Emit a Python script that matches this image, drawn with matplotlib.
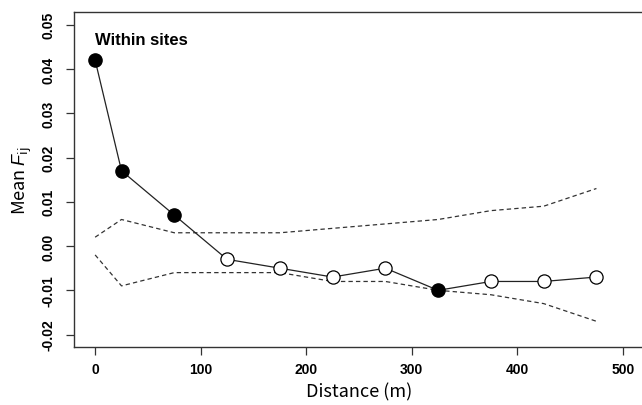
import numpy as np
import matplotlib
matplotlib.use("Agg")
import matplotlib.pyplot as plt

plt.rcParams['font.family'] = ['Liberation Sans', 'DejaVu Sans']
plt.rcParams['mathtext.fontset'] = 'custom'
plt.rcParams['mathtext.rm'] = 'Noto Sans CJK JP'
plt.rcParams['mathtext.it'] = 'Liberation Sans:italic'

# distance classes (m) and mean kinship
dist = [0, 25, 75, 125, 175, 225, 275, 325, 375, 425, 475]
fij = [0.042, 0.017, 0.007, -0.003, -0.005, -0.007, -0.005, -0.010, -0.008, -0.008, -0.007]
signif = [True, True, True, False, False, False, False, True, False, False, False]

# 95% envelope
upper = [0.002, 0.006, 0.003, 0.003, 0.003, 0.004, 0.005, 0.006, 0.008, 0.009, 0.013]
lower = [-0.002, -0.009, -0.006, -0.006, -0.006, -0.008, -0.008, -0.010, -0.011, -0.013, -0.017]

xticks = [0, 100, 200, 300, 400, 500]
yticks = [-0.02, -0.01, 0.00, 0.01, 0.02, 0.03, 0.04, 0.05]

fig = plt.figure(figsize=(6.42, 4.06), dpi=100)
ax = fig.add_axes([0.1153, 0.1429, 1.003 - 0.1153, 0.9672 - 0.1429])

ax.plot(dist, upper, color='#333333', lw=0.9, dashes=(3.5, 2.5))
ax.plot(dist, lower, color='#333333', lw=0.9, dashes=(3.5, 2.5))
ax.plot(dist, fij, color='#222222', lw=0.9, zorder=3)

x = np.array(dist)
y = np.array(fij)
s = np.array(signif)
ax.plot(x[s], y[s], 'o', ms=9.5, mfc='black', mec='black', zorder=4)
ax.plot(x[~s], y[~s], 'o', ms=9.5, mfc='white', mec='black', mew=0.9, zorder=4)

ax.set_xlim(-20, 520)
ax.set_ylim(-0.0228, 0.0528)
ax.set_xticks(xticks)
ax.set_xticklabels([str(t) for t in xticks], fontweight='bold', fontsize=10)
ax.set_yticks(yticks)
ax.set_yticklabels(['%.2f' % t for t in yticks], fontweight='bold', fontsize=10,
                   rotation=90, va='center')
ax.tick_params(direction='out', length=6, width=0.9, color='#333333')
ax.tick_params(axis='x', pad=5)
ax.tick_params(axis='y', pad=7)

for sp in ax.spines.values():
    sp.set_linewidth(1.0)
    sp.set_color('#333333')

cjk = ['Noto Sans CJK JP', 'DejaVu Sans']
ax.set_xlabel('Distance (m)', fontsize=13, family=cjk, labelpad=4)
ax.set_ylabel(r'Mean $\it{F}_{\rm ij}$', fontsize=13, family=cjk, labelpad=6)

ax.text(0.0, 0.0467, 'Within sites', fontsize=12, fontweight='bold', ha='left', va='center')

fig.savefig('out.png', dpi=100)
